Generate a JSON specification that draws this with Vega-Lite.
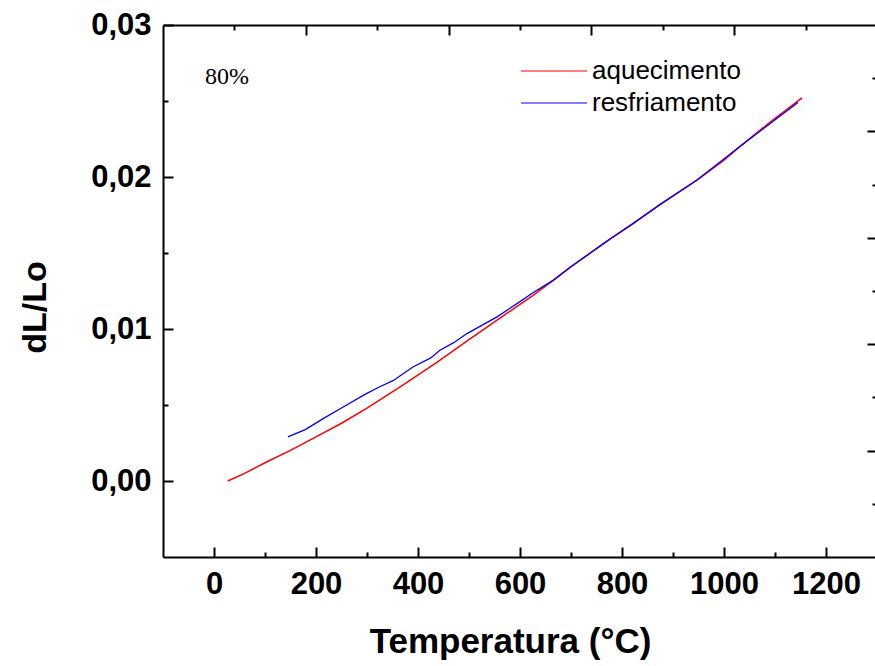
{
  "$schema": "https://vega.github.io/schema/vega-lite/v6.json",
  "width": 714,
  "height": 532,
  "autosize": {"type": "none"},
  "padding": {"left": 163, "top": 25, "right": 0, "bottom": 109},
  "background": "white",
  "config": {
    "view": {"stroke": null},
    "axis": {
      "grid": false,
      "domainColor": "black",
      "domainWidth": 2,
      "tickColor": "black",
      "tickWidth": 2,
      "labelColor": "black",
      "titleColor": "black",
      "labelFont": "Liberation Sans",
      "titleFont": "Liberation Sans"
    }
  },
  "title": {
    "text": "80%",
    "anchor": "start",
    "frame": "group",
    "orient": "top",
    "font": "Liberation Serif",
    "fontSize": 24,
    "fontWeight": "normal",
    "color": "black",
    "baseline": "alphabetic",
    "offset": 0,
    "dx": 42,
    "dy": 99
  },
  "data": {
    "values": [
      {"T": 27, "v": 0.0000, "serie": "aquecimento"},
      {"T": 60, "v": 0.0005, "serie": "aquecimento"},
      {"T": 100, "v": 0.0012, "serie": "aquecimento"},
      {"T": 149, "v": 0.0020, "serie": "aquecimento"},
      {"T": 200, "v": 0.0029, "serie": "aquecimento"},
      {"T": 250, "v": 0.0038, "serie": "aquecimento"},
      {"T": 300, "v": 0.0048, "serie": "aquecimento"},
      {"T": 365, "v": 0.0062, "serie": "aquecimento"},
      {"T": 437, "v": 0.0078, "serie": "aquecimento"},
      {"T": 500, "v": 0.0093, "serie": "aquecimento"},
      {"T": 560, "v": 0.0107, "serie": "aquecimento"},
      {"T": 625, "v": 0.0122, "serie": "aquecimento"},
      {"T": 665, "v": 0.0132, "serie": "aquecimento"},
      {"T": 700, "v": 0.0141, "serie": "aquecimento"},
      {"T": 763, "v": 0.0156, "serie": "aquecimento"},
      {"T": 820, "v": 0.0169, "serie": "aquecimento"},
      {"T": 875, "v": 0.0182, "serie": "aquecimento"},
      {"T": 947, "v": 0.0198, "serie": "aquecimento"},
      {"T": 1000, "v": 0.0211, "serie": "aquecimento"},
      {"T": 1031, "v": 0.0220, "serie": "aquecimento"},
      {"T": 1090, "v": 0.0236, "serie": "aquecimento"},
      {"T": 1153, "v": 0.0252, "serie": "aquecimento"},
      {"T": 145, "v": 0.0029, "serie": "resfriamento"},
      {"T": 180, "v": 0.0034, "serie": "resfriamento"},
      {"T": 214, "v": 0.0041, "serie": "resfriamento"},
      {"T": 250, "v": 0.0048, "serie": "resfriamento"},
      {"T": 296, "v": 0.0057, "serie": "resfriamento"},
      {"T": 325, "v": 0.0062, "serie": "resfriamento"},
      {"T": 351, "v": 0.0066, "serie": "resfriamento"},
      {"T": 390, "v": 0.0075, "serie": "resfriamento"},
      {"T": 425, "v": 0.0081, "serie": "resfriamento"},
      {"T": 443, "v": 0.0086, "serie": "resfriamento"},
      {"T": 470, "v": 0.0091, "serie": "resfriamento"},
      {"T": 496, "v": 0.0097, "serie": "resfriamento"},
      {"T": 555, "v": 0.0108, "serie": "resfriamento"},
      {"T": 600, "v": 0.0118, "serie": "resfriamento"},
      {"T": 626, "v": 0.0124, "serie": "resfriamento"},
      {"T": 665, "v": 0.0132, "serie": "resfriamento"},
      {"T": 700, "v": 0.0141, "serie": "resfriamento"},
      {"T": 763, "v": 0.0156, "serie": "resfriamento"},
      {"T": 780, "v": 0.0160, "serie": "resfriamento"},
      {"T": 820, "v": 0.0169, "serie": "resfriamento"},
      {"T": 875, "v": 0.0182, "serie": "resfriamento"},
      {"T": 947, "v": 0.0198, "serie": "resfriamento"},
      {"T": 1031, "v": 0.0220, "serie": "resfriamento"},
      {"T": 1090, "v": 0.0235, "serie": "resfriamento"},
      {"T": 1145, "v": 0.0249, "serie": "resfriamento"}
    ]
  },
  "layer": [
    {
      "transform": [{"filter": "datum.serie == 'aquecimento'"}],
      "mark": {"type": "line", "strokeWidth": 1.5},
      "encoding": {
        "x": {
          "field": "T", "type": "quantitative",
          "scale": {"domain": [-100, 1300], "nice": false, "zero": false},
          "axis": {
            "orient": "bottom",
            "values": [0, 100, 200, 300, 400, 500, 600, 700, 800, 900, 1000, 1100, 1200],
            "tickSize": {"condition": {"test": "datum.value % 200 != 0", "value": -5}, "value": -10},
            "labelExpr": "datum.value % 200 == 0 ? format(datum.value, 'd') : ''",
            "labelFontSize": 31,
            "labelFontWeight": "bold",
            "labelPadding": 22,
            "labelBaseline": "top",
            "title": "Temperatura (°C)",
            "titleFontSize": 35,
            "titleFontWeight": "bold",
            "titleX": 347,
            "titleY": 95,
            "titleAlign": "center",
            "titleAnchor": null,
            "titleBaseline": "alphabetic"
          }
        },
        "y": {
          "field": "v", "type": "quantitative",
          "scale": {"domain": [-0.005, 0.03], "nice": false, "zero": false},
          "axis": {
            "orient": "left",
            "values": [0, 0.005, 0.01, 0.015, 0.02, 0.025, 0.03],
            "tickSize": {"condition": {"test": "abs(datum.value * 100 - round(datum.value * 100)) > 0.1", "value": -5}, "value": -10},
            "labelExpr": "abs(datum.value * 100 - round(datum.value * 100)) > 0.1 ? '' : replace(format(datum.value, '.2f'), '.', ',')",
            "labelFontSize": 31,
            "labelFontWeight": "bold",
            "labelPadding": 22,
            "title": "dL/Lo",
            "titleFontSize": 34,
            "titleFontWeight": "bold",
            "titleX": -128,
            "titleY": 282,
            "titleAngle": 270,
            "titleAlign": "center",
            "titleAnchor": null,
            "titleBaseline": "middle"
          }
        },
        "color": {
          "field": "serie", "type": "nominal",
          "scale": {"domain": ["aquecimento", "resfriamento"], "range": ["#ff0000", "#0000ff"]},
          "legend": {
            "orient": "none",
            "legendX": 378,
            "legendY": 33,
            "padding": 0,
            "title": null,
            "symbolType": "M-3,0H3",
            "symbolSize": 484,
            "symbolStrokeWidth": 1.2,
            "labelFont": "Liberation Sans",
            "labelFontSize": 26,
            "labelColor": "black",
            "labelOffset": 25,
            "rowPadding": 6
          }
        }
      }
    },
    {
      "transform": [{"filter": "datum.serie == 'resfriamento'"}],
      "mark": {"type": "line", "strokeWidth": 1.3},
      "encoding": {
        "x": {
          "field": "T", "type": "quantitative",
          "axis": {
            "orient": "top",
            "values": [40, 180, 320, 460, 600, 740, 880, 1020, 1160],
            "tickSize": {"condition": {"test": "indexof([180, 460, 740, 1020], datum.value) < 0", "value": -5}, "value": -10},
            "labels": false,
            "title": null
          }
        },
        "y": {
          "field": "v", "type": "quantitative",
          "axis": {
            "orient": "right",
            "values": [0.0265, 0.023, 0.0195, 0.016, 0.0125, 0.009, 0.0055, 0.002, -0.0015],
            "tickSize": {"condition": {"test": "abs(datum.value * 1000 - round(datum.value * 1000)) > 0.1", "value": -5}, "value": -10},
            "labels": false,
            "title": null
          }
        },
        "color": {"field": "serie", "type": "nominal"}
      }
    }
  ],
  "resolve": {"axis": {"x": "independent", "y": "independent"}}
}
